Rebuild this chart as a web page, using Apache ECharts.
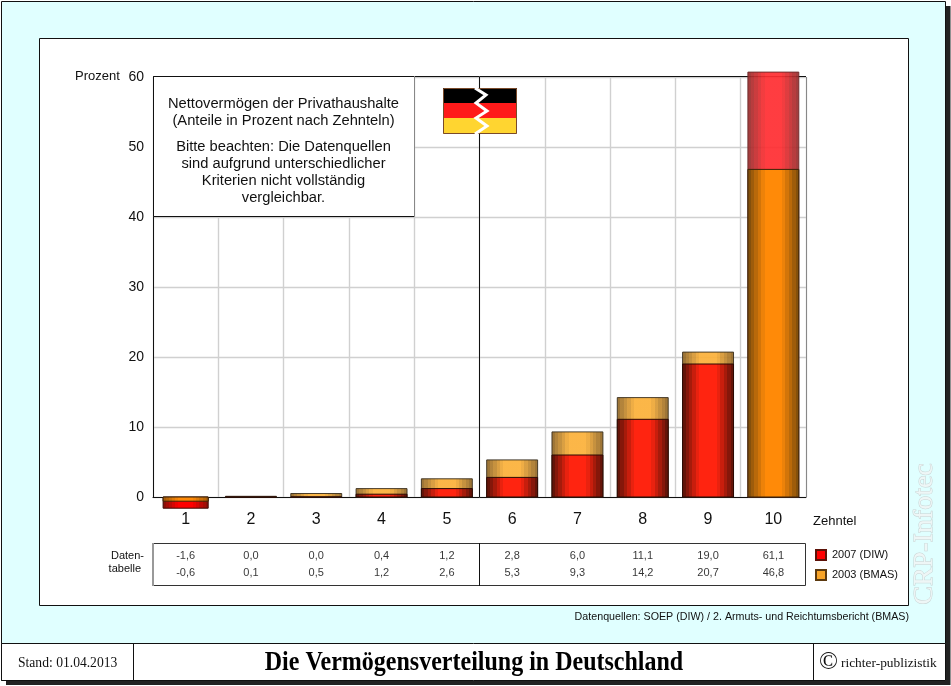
<!DOCTYPE html>
<html>
<head>
<meta charset="utf-8">
<title>Die Vermögensverteilung in Deutschland</title>
<script src="https://cdn.jsdelivr.net/npm/echarts@6/dist/echarts.min.js"></script>
<style>
  html, body { margin: 0; padding: 0; background: #fff; }
  #chart { width: 951px; height: 686px; }
</style>
</head>
<body>
<div id="chart"></div>
<script>
let deciles = ['1', '2', '3', '4', '5', '6', '7', '8', '9', '10'];
// bar heights, the top of bar 10 stops at about 60.7
let values2007 = [-1.6, 0, 0, 0.4, 1.2, 2.8, 6.0, 11.1, 19.0, 60.7];
let values2003 = [-0.6, 0.1, 0.5, 1.2, 2.6, 5.3, 9.3, 14.2, 20.7, 46.8];
let table2007 = ['-1,6', '0,0', '0,0', '0,4', '1,2', '2,8', '6,0', '11,1', '19,0', '61,1'];
let table2003 = ['-0,6', '0,1', '0,5', '1,2', '2,6', '5,3', '9,3', '14,2', '20,7', '46,8'];
let yTicks = [0, 10, 20, 30, 40, 50, 60];

const SANS = '"Liberation Sans", Arial, sans-serif';
const SERIF = '"Liberation Serif", "Times New Roman", serif';

// vertical stripes from a dark edge to a bright middle
function barFill(edge, centre) {
  let bands = 15;
  let stops = [];
  for (let b = 0; b < bands; b++) {
    let t = 1 - Math.abs(b - (bands - 1) / 2) / ((bands - 1) / 2);
    let color = echarts.color.lerp(Math.min(1, t * 1.5), [edge, centre]);
    stops.push({offset: b / bands, color: color});
    stops.push({offset: (b + 1) / bands, color: color});
  }
  return new echarts.graphic.LinearGradient(0, 0, 1, 0, stops);
}

let barStyles = {
  '2007 (DIW)': {
    front: {fill: barFill('#641408', '#ff2410'), stroke: '#2a0a04', opacity: 1},
    back: {fill: barFill('#9c2c2c', '#ff2c30'), stroke: '#6a2a2a', opacity: 0.92},
    below: {fill: barFill('#8c1008', '#ff0000'), stroke: '#3a0a04', opacity: 1}
  },
  '2003 (BMAS)': {
    front: {fill: barFill('#84500c', '#ff8a08'), stroke: '#3a2408', opacity: 1},
    back: {fill: barFill('#966a26', '#fbb038'), stroke: '#3a3020', opacity: 0.92},
    below: {fill: barFill('#a85c08', '#ff8a08'), stroke: '#3a2408', opacity: 1}
  }
};

// the smaller value of a decile lies in front of the bigger one
function renderBar(params, api) {
  let i = api.value(0);
  let value = api.value(1);
  let other = api.value(2);
  let top = api.coord([i, value]);
  let base = api.coord([i, 0]);
  let slot = api.size([1, 0])[0];
  let width = slot * (i === 0 ? 0.69 : 0.78);
  let isFront = Math.abs(value) <= Math.abs(other);
  let kind = value < 0 ? 'below' : (isFront ? 'front' : 'back');
  let look = barStyles[params.seriesName][kind];
  return {
    type: 'rect',
    z2: isFront ? 20 : 10,
    shape: {
      x: top[0] - width / 2,
      y: Math.min(top[1], base[1]),
      width: width,
      height: Math.abs(base[1] - top[1])
    },
    style: {fill: look.fill, stroke: look.stroke, lineWidth: 1, opacity: look.opacity}
  };
}

function barData(own, other) {
  return own.map(function (v, i) {
    return [i, v, other[i]];
  });
}

function tableData(labels, row) {
  return labels.map(function (s, i) {
    return [i, row, s];
  });
}

function tableSeries(labels, row) {
  return {
    type: 'scatter',
    xAxisIndex: 1,
    yAxisIndex: 1,
    symbolSize: 0,
    silent: true,
    data: tableData(labels, row),
    label: {
      show: true,
      position: 'inside',
      fontFamily: SANS,
      fontSize: 11,
      color: '#000',
      formatter: function (p) {
        return p.data[2];
      }
    }
  };
}

function line(x1, y1, x2, y2, color, z, width) {
  return {
    type: 'line',
    z: z,
    silent: true,
    shape: {x1: x1, y1: y1, x2: x2, y2: y2},
    style: {stroke: color, lineWidth: width || 1}
  };
}

function box(x, y, w, h, fill, stroke, z) {
  return {
    type: 'rect',
    z: z,
    silent: true,
    shape: {x: x, y: y, width: w, height: h},
    style: {fill: fill, stroke: stroke, lineWidth: stroke ? 1 : 0}
  };
}

function text(x, y, s, size, align, family, extra) {
  return {
    type: 'text',
    z: 30,
    silent: true,
    x: x,
    y: y,
    style: Object.assign({
      text: s,
      fontFamily: family || SANS,
      fontSize: size,
      fill: '#111',
      align: align || 'left',
      verticalAlign: 'middle'
    }, extra || {})
  };
}

let frame = [
  // page frame with drop shadow
  box(6, 6, 944.5, 679, '#222', null, -5),
  box(1.5, 1.5, 944, 679, '#e0ffff', '#111', -4),
  box(39.5, 38.5, 869, 567, '#fff', '#111', -3),
  // footer
  box(1.5, 643.5, 944, 37, '#fff', '#111', -2),
  line(133.5, 643, 133.5, 681, '#111', -1),
  line(813.5, 643, 813.5, 681, '#111', -1),
  // plot frame and split at decile 5/6
  line(153, 76.5, 806, 76.5, '#111', 1),
  line(806.5, 77, 806.5, 497, '#888', 5),
  line(479.5, 77, 479.5, 497, '#111', 5),
  // table frame
  box(153.5, 543.5, 652, 42, 'transparent', '#333', 5),
  line(153, 543, 153, 586, '#999', 6, 2),
  line(479.5, 543, 479.5, 586, '#111', 5),
  // note box
  box(153.5, 76.5, 261, 140, '#fff', '#111', 8),
  line(414.5, 76, 414.5, 217, '#888', 9),
  // flag
  box(443, 88, 74, 15, '#000', null, 12),
  box(443, 103, 74, 15, '#ff1a1a', null, 12),
  box(443, 118, 74, 16, '#ffd530', null, 12),
  box(443.5, 88.5, 73, 45, 'transparent', '#7a4a2a', 12),
  {
    type: 'polyline',
    z: 13,
    silent: true,
    shape: {points: [[475, 88], [486, 95], [476, 103], [487, 111], [476, 118], [487, 126], [475, 134]]},
    style: {stroke: '#fff', lineWidth: 3, fill: 'none'}
  }
];

let labels = [
  text(75, 76, 'Prozent', 13),
  text(813, 521, 'Zehntel', 13),
  text(144, 556, 'Daten-', 11, 'right'),
  text(141, 569, 'tabelle', 11, 'right'),
  text(283.5, 112, 'Nettovermögen der Privathaushalte\n(Anteile in Prozent nach Zehnteln)', 14.7, 'center', SANS, {lineHeight: 17, align: 'center'}),
  text(283.5, 172, 'Bitte beachten: Die Datenquellen\nsind aufgrund unterschiedlicher\nKriterien nicht vollständig\nvergleichbar.', 14.7, 'center', SANS, {lineHeight: 17, align: 'center'}),
  text(909, 617, 'Datenquellen: SOEP (DIW) / 2. Armuts- und Reichtumsbericht (BMAS)', 10.7, 'right'),
  text(18, 663, 'Stand: 01.04.2013', 13.6, 'left', SERIF),
  Object.assign(text(474, 662.5, 'Die Vermögensverteilung in Deutschland', 24, 'center', SERIF, {fontWeight: 'bold', fill: '#000'}), {scaleY: 1.15}),
  text(819, 662, '©', 25, 'left', SERIF),
  text(841, 663, 'richter-publizistik', 13.4, 'left', SERIF),
  {
    type: 'text',
    z: 1,
    silent: true,
    x: 925,
    y: 534,
    rotation: -Math.PI / 2 * 3,
    style: {
      text: 'CRP-Infotec',
      fontFamily: SERIF,
      fontSize: 28,
      fill: '#eef6f6',
      stroke: '#c8d2d2',
      lineWidth: 1,
      align: 'center',
      verticalAlign: 'middle'
    }
  }
];

let myChart = echarts.init(document.getElementById('chart'));
myChart.setOption({
  animation: false,
  backgroundColor: '#fff',
  graphic: {elements: frame.concat(labels)},
  legend: {
    data: ['2007 (DIW)', '2003 (BMAS)'],
    orient: 'vertical',
    left: 815,
    top: 549,
    itemWidth: 10,
    itemHeight: 10,
    itemGap: 8,
    icon: 'rect',
    selectedMode: false,
    padding: 0,
    textStyle: {fontFamily: SANS, fontSize: 11, lineHeight: 10, color: '#111', padding: [0, 0, 0, 1]}
  },
  grid: [
    {left: 153, top: 77, width: 653, height: 420},
    {left: 153, top: 547.5, width: 653, height: 34}
  ],
  xAxis: [
    {
      type: 'category',
      data: deciles,
      axisLine: {onZero: false, lineStyle: {color: '#111', width: 1}},
      axisTick: {show: false},
      axisLabel: {fontFamily: SANS, fontSize: 16, color: '#111', margin: 15},
      splitLine: {show: true, lineStyle: {color: '#d0d0d0', width: 1.4}}
    },
    {
      type: 'category',
      gridIndex: 1,
      data: deciles,
      axisLine: {show: false},
      axisTick: {show: false},
      axisLabel: {show: false}
    }
  ],
  yAxis: [
    {
      type: 'value',
      min: yTicks[0],
      max: yTicks[yTicks.length - 1],
      interval: 10,
      axisLine: {show: true, lineStyle: {color: '#111', width: 1}},
      axisTick: {show: false},
      axisLabel: {fontFamily: SANS, fontSize: 14, color: '#111', margin: 9, padding: [2, 0, 0, 0]},
      splitLine: {lineStyle: {color: '#d0d0d0', width: 1.4}}
    },
    {
      type: 'category',
      gridIndex: 1,
      data: ['2003', '2007'],
      axisLine: {show: false},
      axisTick: {show: false},
      axisLabel: {show: false}
    }
  ],
  series: [
    {
      name: '2007 (DIW)',
      type: 'custom',
      renderItem: renderBar,
      clip: false,
      encode: {x: 0, y: 1},
      data: barData(values2007, values2003),
      itemStyle: {color: '#ff0000', borderColor: '#5c1208', borderWidth: 1}
    },
    {
      name: '2003 (BMAS)',
      type: 'custom',
      renderItem: renderBar,
      clip: false,
      encode: {x: 0, y: 1},
      data: barData(values2003, values2007),
      itemStyle: {color: '#f8a428', borderColor: '#5c3a10', borderWidth: 1}
    },
    tableSeries(table2007, 1),
    tableSeries(table2003, 0)
  ]
});
</script>
</body>
</html>
